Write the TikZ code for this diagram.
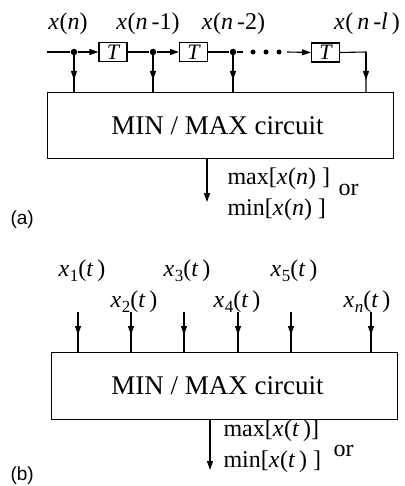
\documentclass[tikz,border=0pt]{standalone}
\usepackage{fontspec}
\setmainfont{Liberation Serif}
\newfontfamily\labfont{Liberation Sans}
\usetikzlibrary{arrows.meta}
\newcommand\vx{\textit{x}\kern0.5pt}
\newcommand\sbs[1]{\raisebox{-5pt}{\fontsize{17}{17}\selectfont #1}}
\begin{document}
\begin{tikzpicture}[x=1pt,y=-1pt, line width=1.1pt,
  tbox/.style={draw, minimum width=28pt, minimum height=19pt, inner sep=0pt, font=\fontsize{22}{22}\selectfont\itshape},
  bigbox/.style={draw, anchor=north west, inner sep=0pt, minimum width=346pt, font=\fontsize{27}{27}\selectfont},
  arr/.style={-{Triangle[length=9pt,width=6pt]}},
  lab/.style={font=\fontsize{24}{24}\selectfont, inner sep=0pt, anchor=base},
  labw/.style={font=\fontsize{24}{24}\selectfont, inner sep=0pt, anchor=base west},
  tag/.style={font=\labfont\fontsize{19}{19}\selectfont, inner sep=0pt, anchor=base west},
  bigdot/.style={circle, fill, inner sep=0pt, minimum size=6.5pt},
  smalldot/.style={circle, fill, inner sep=0pt, minimum size=5pt}
]
\useasboundingbox (0,0) rectangle (404,486);

% ---------- (a) ----------
\node[lab] (ln0) at (68,30) {\vx(\textit{n})};
\node[lab] (ln1) at (148,30) {\vx(\textit{n}\,-1)};
\node[lab] (ln2) at (233.5,30) {\vx(\textit{n}\,-2)};
\node[lab] (lnl) at (367,30) {\vx(\,\textit{n}\,-\textit{l}\,)};

\coordinate (in) at (47,52);
\node[bigdot] (d1) at (74,52) {};
\node[tbox] (T1) at (113,52) {T};
\node[bigdot] (d2) at (153,52) {};
\node[tbox] (T2) at (193.5,52) {T};
\node[bigdot] (d3) at (233,52) {};
\coordinate (e3) at (243,52);
\node[smalldot] (p1) at (253,52) {};
\node[smalldot] (p2) at (266,52) {};
\node[smalldot] (p3) at (279,52) {};
\coordinate (s3) at (287,52);
\node[tbox] (T3) at (325.5,52.5) {T};
\coordinate (c4) at (366,52);

\node[bigbox, minimum height=66pt] (boxA) at (47,92) {MIN / MAX circuit\hspace*{6pt}};

\draw (in) -- (d1);
\draw[arr] (d1) -- (T1.west);
\draw (T1.east) -- (d2);
\draw[arr] (d2) -- (T2.west);
\draw (T2.east) -- (d3) -- (e3);
\draw[arr] (s3) -- (T3.west);
\draw (T3.east) -- (c4) -- (c4 |- boxA.north);
\draw[arr] (c4) -- ++(0,28);
\foreach \d in {d1,d2,d3}{
  \draw (\d.center) -- (\d.center |- boxA.north);
  \draw[arr] (\d.center) -- ++(0,28);
}

\coordinate (oa) at (207,202);
\draw[arr] (boxA.south -| oa) -- (oa);
\node[labw] (maxa) at (227,185) {max[\vx(\textit{n}) ]};
\node[labw] (ora) at (338,195) {or};
\node[labw] (mina) at (227,215) {min[\vx(\textit{n}) ]};
\node[tag] (taga) at (10,224) {(a)};

% ---------- (b) ----------
\node[lab] (x1) at (82,276) {\vx\sbs{1}(\textit{t}\,)};
\node[lab] (x2) at (134,307) {\vx\sbs{2}(\textit{t}\,)};
\node[lab] (x3) at (187,276) {\vx\sbs{3}(\textit{t}\,)};
\node[lab] (x4) at (237,307) {\vx\sbs{4}(\textit{t}\,)};
\node[lab] (x5) at (294,276) {\vx\sbs{5}(\textit{t}\,)};
\node[lab] (xn) at (367,307) {\vx\sbs{\textit{n}}(\textit{t}\,)};

\node[bigbox, minimum height=67pt] (boxB) at (51,352) {MIN / MAX circuit\hspace*{14pt}};

\coordinate (i1) at (78,312);
\coordinate (i2) at (131,312);
\coordinate (i3) at (184,312);
\coordinate (i4) at (238,312);
\coordinate (i5) at (291,312);
\coordinate (i6) at (371,312);
\foreach \i in {i1,i2,i3,i4,i5,i6}{
  \draw (\i) -- (\i |- boxB.north);
  \draw[arr] (\i) -- ++(0,23);
}

\coordinate (ob) at (210,470);
\draw[arr] (boxB.south -| ob) -- (ob);
\node[labw] (maxb) at (223,436) {max[\vx(\textit{t}\,)]};
\node[labw] (orb) at (333,456) {or};
\node[labw] (minb) at (223,467) {min[\vx(\textit{t}\,) ]};
\node[tag] (tagb) at (10,480) {(b)};
\end{tikzpicture}
\end{document}
